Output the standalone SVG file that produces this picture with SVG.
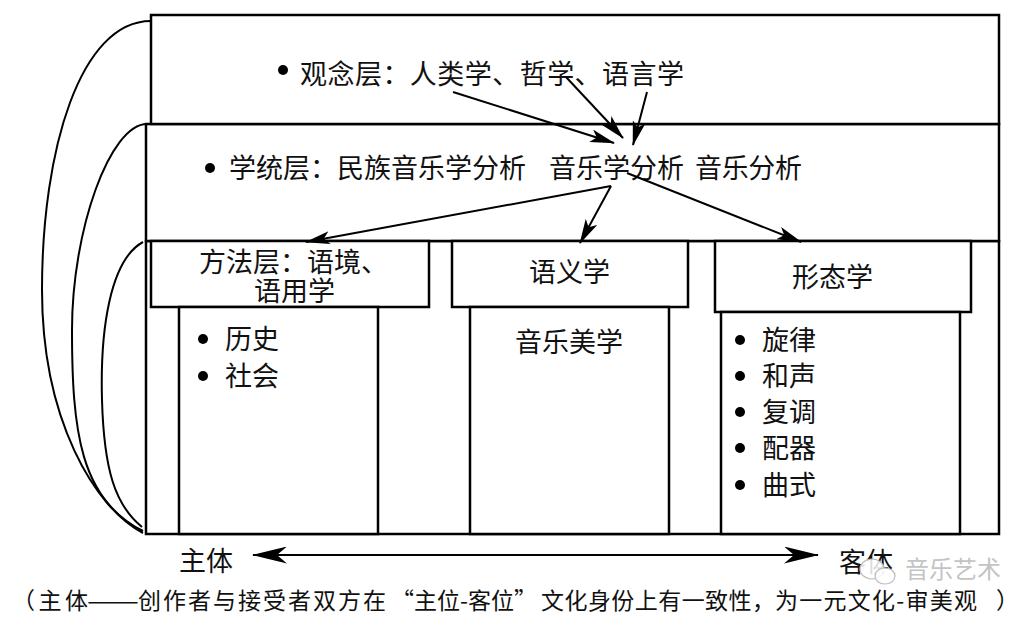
<svg xmlns="http://www.w3.org/2000/svg" width="1035" height="617" viewBox="0 0 1035 617">
<style>
.box{fill:#fff;stroke:#000;stroke-width:2.5}
.t{font-family:"Noto Sans CJK SC","Noto Sans CJK JP",sans-serif;font-size:27px;fill:#111}
.s{font-family:"Noto Sans CJK SC","Noto Sans CJK JP",sans-serif;font-size:23px;fill:#111}
.wm{font-family:"Noto Sans CJK SC",sans-serif;font-size:24px;fill:#c4c4c4}
.ln{stroke:#000;stroke-width:2;fill:none}
.cv{stroke:#000;stroke-width:2;fill:none}
.dot{fill:#000}
</style>
<defs>
<marker id="ah" viewBox="0 0 25 13" refX="24" refY="6.5" markerWidth="25" markerHeight="13" markerUnits="userSpaceOnUse" orient="auto"><path d="M0,0 L25,6.5 L0,13 L6,6.5 z" fill="#000"/></marker>
<marker id="ahb" viewBox="0 0 35 17" refX="34" refY="8.5" markerWidth="35" markerHeight="17" markerUnits="userSpaceOnUse" orient="auto-start-reverse"><path d="M0,0 L35,8.5 L0,17 L10,8.5 z" fill="#000"/></marker>
</defs>
<rect width="1035" height="617" fill="#fff"/>

<g id="layer-method">
<rect class="box" x="146" y="241" width="853" height="293"/>
</g>
<g id="layer-discipline">
<rect class="box" x="146" y="124" width="853" height="117"/>
<circle class="dot" cx="210" cy="168" r="5"/>
<text class="t" x="229" y="178">学统层：民族音乐学分析</text>
<text class="t" x="549" y="178">音乐学分析</text>
<text class="t" x="695" y="178" textLength="107">音乐分析</text>
</g>
<g id="layer-concept">
<rect class="box" x="151" y="15" width="848" height="109"/>
<circle class="dot" cx="283" cy="70" r="5"/>
<text class="t" x="300" y="84" textLength="384">观念层：人类学、哲学、语言学</text>
</g>

<g id="col-method">
<rect class="box" x="151" y="241" width="278" height="66"/>
<text class="t"><tspan x="199" y="272">方法层：语境、</tspan><tspan x="254" y="301">语用学</tspan></text>
<rect class="box" x="179" y="307" width="199" height="227"/>
<circle class="dot" cx="203" cy="339" r="5"/>
<text class="t" x="225" y="349">历史</text>
<circle class="dot" cx="203" cy="376" r="5"/>
<text class="t" x="225" y="386">社会</text>
</g>
<g id="col-semantics">
<rect class="box" x="452" y="241" width="236" height="66"/>
<text class="t" x="529" y="282">语义学</text>
<rect class="box" x="470" y="307" width="199" height="227"/>
<text class="t" x="515" y="352">音乐美学</text>
</g>
<g id="col-morphology">
<rect class="box" x="715" y="241" width="256" height="71"/>
<text class="t" x="792" y="287">形态学</text>
<rect class="box" x="721" y="312" width="239" height="222"/>
<circle class="dot" cx="740" cy="340" r="5"/>
<text class="t" x="762" y="350">旋律</text>
<circle class="dot" cx="740" cy="376" r="5"/>
<text class="t" x="762" y="386">和声</text>
<circle class="dot" cx="740" cy="412" r="5"/>
<text class="t" x="762" y="422">复调</text>
<circle class="dot" cx="740" cy="448" r="5"/>
<text class="t" x="762" y="458">配器</text>
<circle class="dot" cx="740" cy="485" r="5"/>
<text class="t" x="762" y="495">曲式</text>
</g>

<g id="connectors">
<line class="ln" x1="453" y1="92" x2="614" y2="143" marker-end="url(#ah)"/>
<line class="ln" x1="566" y1="77" x2="623" y2="138" marker-end="url(#ah)"/>
<line class="ln" x1="647" y1="92" x2="633" y2="145" marker-end="url(#ah)"/>
<line class="ln" x1="611" y1="186" x2="306" y2="242" marker-end="url(#ah)"/>
<line class="ln" x1="611" y1="186" x2="580" y2="243" marker-end="url(#ah)"/>
<line class="ln" x1="627" y1="173" x2="801" y2="242" marker-end="url(#ah)"/>
<line class="ln" x1="253" y1="555" x2="818" y2="555" marker-start="url(#ahb)" marker-end="url(#ahb)"/>
<path class="cv" d="M151,21 C80,21 42,150 42,290 C42,420 95,508 143,533"/>
<path class="cv" d="M147,124 C110,124 72,230 72,330 C72,430 80,500 143,531"/>
<path class="cv" d="M143,242 C110,260 100,330 102,400 C104,470 115,505 142,527"/>
</g>

<g id="axis-labels">
<text class="t" x="179" y="571">主体</text>
<text class="t" x="839" y="572">客体</text>
</g>

<g id="watermark">
<ellipse cx="872" cy="569" rx="12" ry="10" fill="#fff" fill-opacity="0.85" stroke="#bbb" stroke-width="1.2"/>
<ellipse cx="885" cy="576" rx="10" ry="8" fill="#fff" fill-opacity="0.85" stroke="#bbb" stroke-width="1.2"/>
<text class="wm" x="905" y="578">音乐艺术</text>
</g>

<g id="caption">
<text class="s" x="12" y="609" textLength="76">（主体</text>
<text class="s" x="87" y="609" textLength="52" lengthAdjust="spacingAndGlyphs">——</text>
<text class="s" x="138" y="609" textLength="248">创作者与接受者双方在</text>
<text class="s" x="391" y="609">“主位-客位”</text>
<text class="s" x="541" y="609" textLength="234">文化身份上有一致性，</text>
<text class="s" x="775" y="609" textLength="202">为一元文化-审美观</text>
<text class="s" x="996" y="609">）</text>
</g>
</svg>
